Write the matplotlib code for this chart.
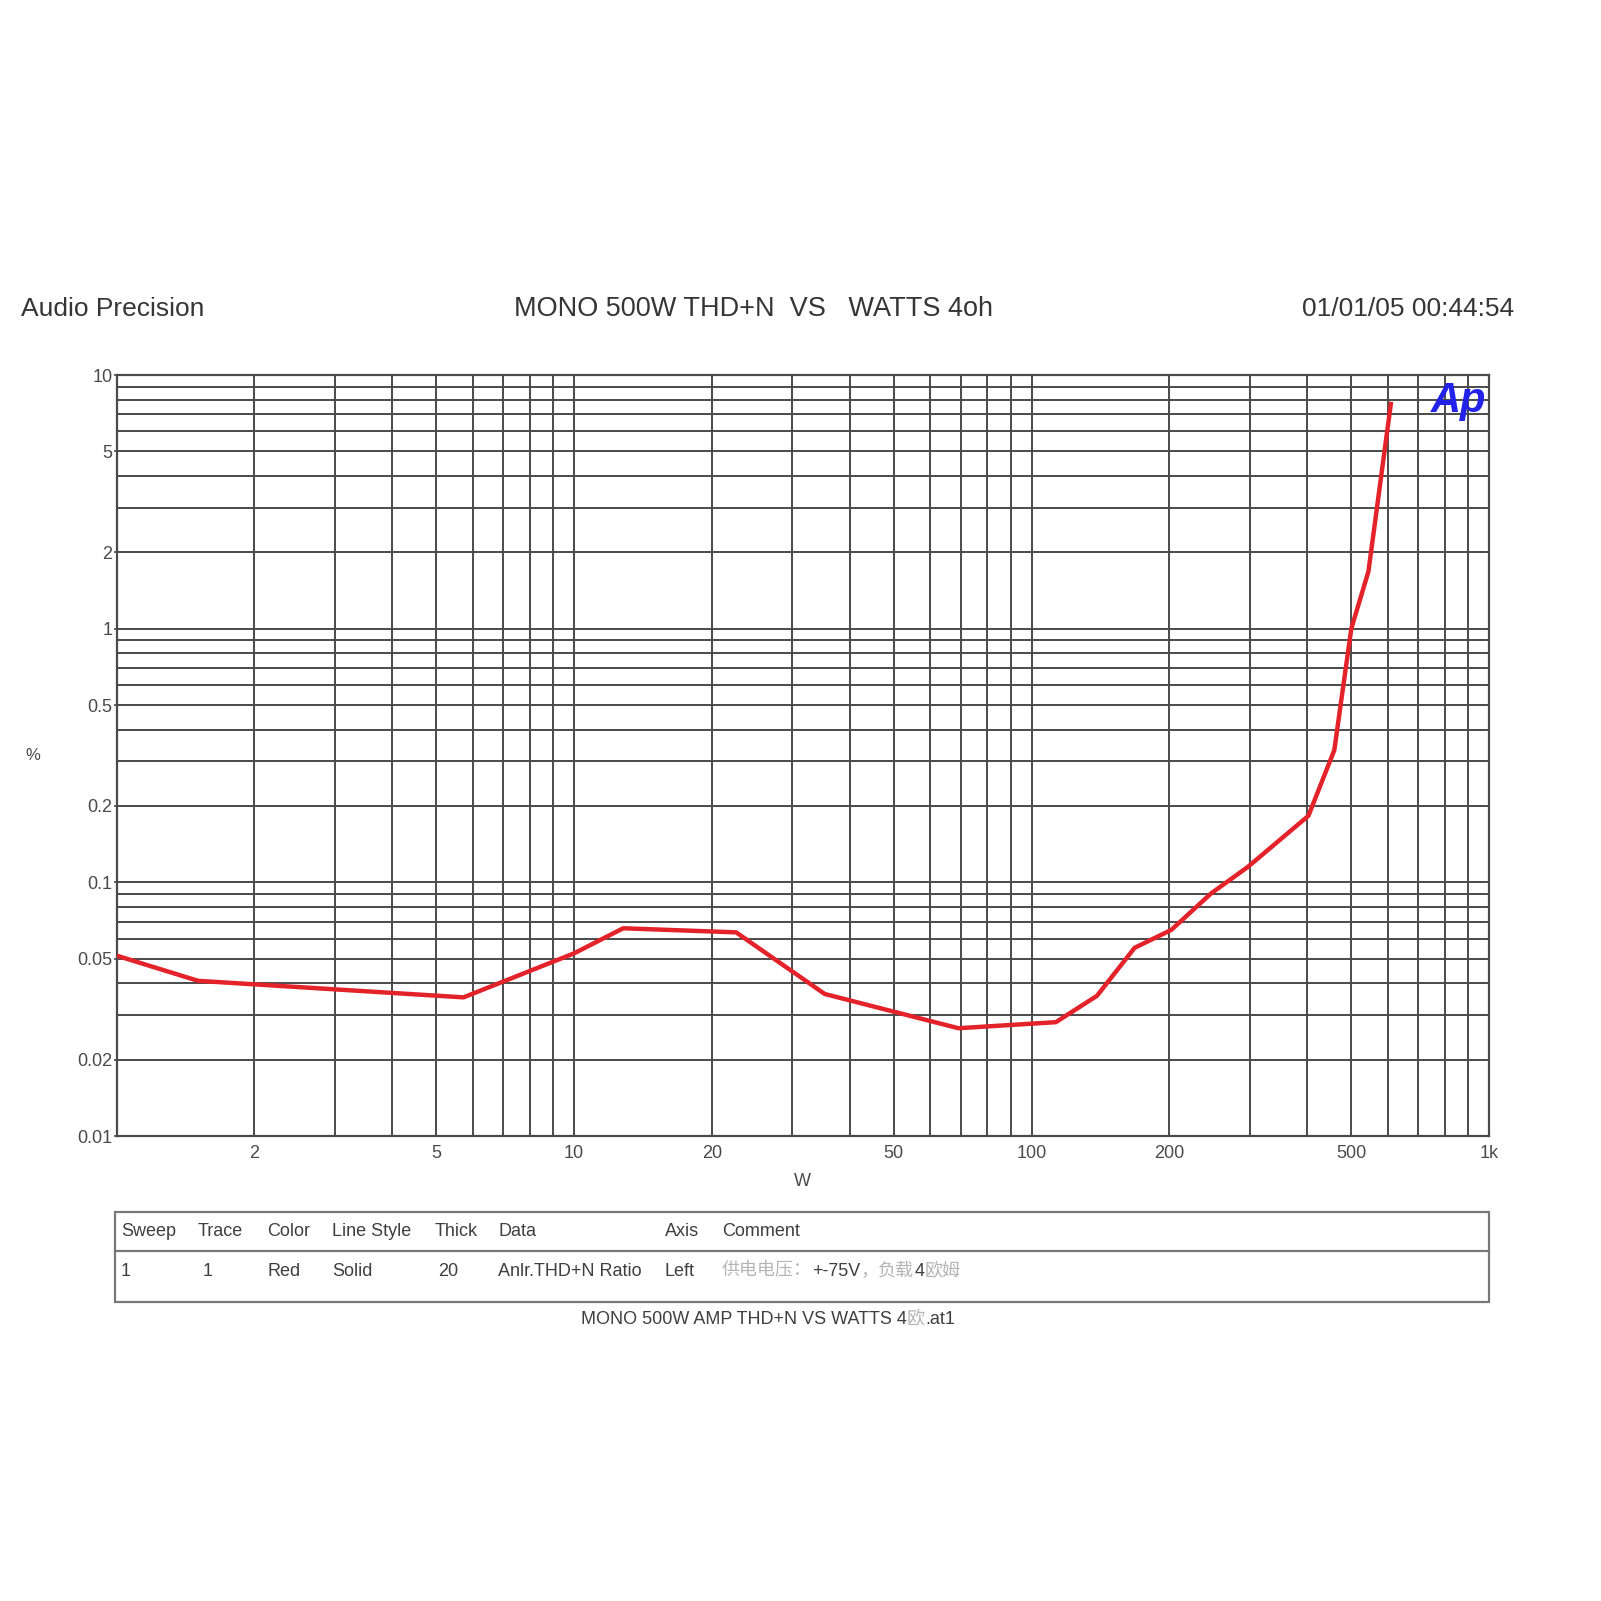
import matplotlib
matplotlib.use('Agg')
import matplotlib.pyplot as plt
from matplotlib import font_manager
from matplotlib.patches import Rectangle
from matplotlib.lines import Line2D

# ---------------- data ----------------
watts = [1.0, 1.506, 5.73, 10.0, 12.8, 22.6, 35.3, 69.2, 113, 139, 168, 202, 247, 297, 403, 459, 500, 545, 611]
thd_pct = [0.0514, 0.0409, 0.0352, 0.0525, 0.0659, 0.0635, 0.0363, 0.0266, 0.0281, 0.0357, 0.0552, 0.0649,
           0.0905, 0.115, 0.183, 0.332, 1.0, 1.68, 7.84]

x_tick_vals = [2, 5, 10, 20, 50, 100, 200, 500, 1000]
x_tick_labels = ["2", "5", "10", "20", "50", "100", "200", "500", "1k"]
y_tick_vals = [0.01, 0.02, 0.05, 0.1, 0.2, 0.5, 1, 2, 5, 10]
y_tick_labels = ["0.01", "0.02", "0.05", "0.1", "0.2", "0.5", "1", "2", "5", "10"]

table_headers = ["Sweep", "Trace", "Color", "Line Style", "Thick", "Data", "Axis", "Comment"]
table_row = ["1", "1", "Red", "Solid", "20", "Anlr.THD+N Ratio", "Left"]
comment_parts = [("供电电压：", "light"), ("+-75V", "dark"), ("，", "light"), ("负载", "light"),
                 ("4", "dark"), ("欧姆", "light")]
footer_parts = [("MONO 500W AMP THD+N VS WATTS 4", "dark"), ("欧", "light"), (".at1", "dark")]

header_left = "Audio Precision"
header_title = "MONO 500W THD+N  VS   WATTS 4oh"
header_date = "01/01/05 00:44:54"

# ---------------- layout ----------------
W = H = 1601
fig = plt.figure(figsize=(16.01, 16.01), dpi=100)
fig.patch.set_facecolor('white')


def fx(x):
    return x / W


def fy(y):
    return 1 - y / H


available = {f.name for f in font_manager.fontManager.ttflist}
if 'Liberation Sans Narrow' in available:
    narrow_fam = ['Liberation Sans Narrow', 'Noto Sans CJK SC', 'DejaVu Sans']
    tsize = 15.5
else:
    narrow_fam = ['Liberation Sans', 'Noto Sans CJK SC', 'DejaVu Sans']
    tsize = 13
main_fam = ['Liberation Sans', 'Noto Sans CJK SC', 'DejaVu Sans']

DARK = '#363636'
LIGHT = '#b4b4b4'
GRID = '#4a4a4a'

L, R, T, B = 116.7, 1489, 375, 1136
ax = fig.add_axes([fx(L), fy(B), fx(R) - fx(L), fy(T) - fy(B)])
ax.set_xscale('log')
ax.set_yscale('log')
ax.set_xlim(1, 1000)
ax.set_ylim(0.01, 10)

xminor = [k * 10 ** d for d in range(0, 3) for k in range(1, 10)] + [1000]
yminor = [k * 10.0 ** d for d in range(-2, 1) for k in range(1, 10)] + [10]
ax.set_xticks(xminor, minor=True)
ax.set_yticks(yminor, minor=True)
ax.set_xticks(x_tick_vals, x_tick_labels)
ax.set_yticks(y_tick_vals, y_tick_labels)
ax.xaxis.set_minor_formatter(matplotlib.ticker.NullFormatter())
ax.yaxis.set_minor_formatter(matplotlib.ticker.NullFormatter())
ax.grid(which='both', color=GRID, lw=1.4)
ax.set_axisbelow(True)
ax.tick_params(axis='x', which='both', length=0, pad=6.5, labelsize=13, labelcolor='#4a4a4a')
ax.tick_params(axis='y', which='major', length=2.5, width=1.2, color=GRID, pad=0.5, labelsize=13,
               labelcolor='#4a4a4a')
ax.tick_params(axis='y', which='minor', length=0)
for lab in ax.get_xticklabels() + ax.get_yticklabels():
    lab.set_family(main_fam)
for s in ax.spines.values():
    s.set_color(GRID)
    s.set_linewidth(1.6)

ax.plot(watts, thd_pct, color='#e3222a', lw=3.2, solid_joinstyle='round', solid_capstyle='butt', zorder=3)

fig.text(fx(1459), fy(401), 'Ap', color='#2222e8', fontsize=30, fontweight='bold', fontstyle='italic',
         ha='center', va='center', family=main_fam)

fig.text(fx(33), fy(756), '%', ha='center', va='center', fontsize=12, color='#4a4a4a', family=main_fam)
fig.text(fx(802), fy(1182), 'W', ha='center', va='center', fontsize=13, color='#4a4a4a', family=main_fam)

# header
fig.text(fx(21), fy(309), header_left, fontsize=19, va='center', ha='left', color=DARK, family=main_fam)
fig.text(fx(753), fy(309), header_title, fontsize=19.5, va='center', ha='center', color=DARK, family=main_fam)
fig.text(fx(1514), fy(309), header_date, fontsize=19, va='center', ha='right', color=DARK, family=main_fam)

# table
TL, TR, TT, TM, TB = 115, 1489, 1212, 1251, 1302
fig.patches.append(Rectangle((fx(TL), fy(TB)), fx(TR) - fx(TL), fy(TT) - fy(TB), transform=fig.transFigure,
                             fill=False, edgecolor='#777777', lw=1.6))
fig.lines.append(Line2D([fx(TL), fx(TR)], [fy(TM), fy(TM)], transform=fig.transFigure, color='#777777', lw=1.6))

col_x = [121, 198, 267, 332, 435, 498, 665, 722]
row_x = [121, 203, 267, 332, 438, 498, 665]
for x, h in zip(col_x, table_headers):
    fig.text(fx(x), fy(1232), h, fontsize=tsize, va='center', ha='left', color='#3f3f3f', family=narrow_fam)
for x, v in zip(row_x, table_row):
    fig.text(fx(x), fy(1271), v, fontsize=tsize, va='center', ha='left', color='#3f3f3f', family=narrow_fam)

renderer = fig.canvas.get_renderer()


def seq_text(x0, y, parts, size, center=False):
    colors = {'dark': '#3f3f3f', 'light': LIGHT}
    texts = []
    x = x0
    for s, c in parts:
        t = fig.text(fx(x), fy(y), s, color=colors[c], fontsize=size, family=narrow_fam, va='center', ha='left')
        w = t.get_window_extent(renderer).width
        texts.append((t, x))
        x += w
    if center:
        total = x - x0
        for t, xx in texts:
            t.set_x(fx(xx - total / 2))


seq_text(722, 1271, comment_parts, tsize)
seq_text(768, 1319, footer_parts, tsize, center=True)

fig.savefig('out.png', dpi=100, facecolor='white')
